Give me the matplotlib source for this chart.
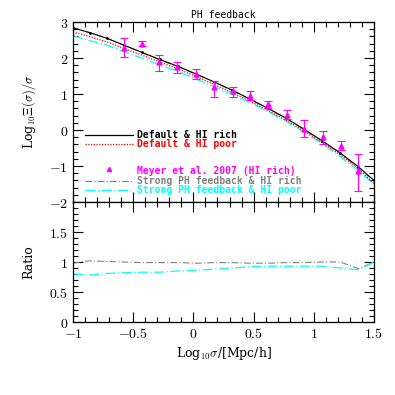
import numpy as np
import matplotlib
matplotlib.use("Agg")
import matplotlib.pyplot as plt
from matplotlib.ticker import MultipleLocator, FuncFormatter
from matplotlib.lines import Line2D

plt.rcParams['font.family'] = ['DejaVu Serif']
plt.rcParams['mathtext.fontset'] = 'cm'

# model curves
log_sigma = [-1.0, -0.86, -0.72, -0.58, -0.43, -0.28, -0.13, 0.02, 0.17,
             0.32, 0.47, 0.62, 0.77, 0.92, 1.07, 1.22, 1.37, 1.5]
default_rich = [2.84, 2.70, 2.55, 2.36, 2.16, 1.96, 1.77, 1.56, 1.34,
                1.11, 0.86, 0.60, 0.33, 0.02, -0.30, -0.64, -1.02, -1.40]
default_poor = [2.72, 2.59, 2.45, 2.27, 2.08, 1.89, 1.70, 1.49, 1.27,
                1.04, 0.80, 0.54, 0.27, -0.03, -0.35, -0.69, -1.07, -1.49]
strong_rich = [2.84, 2.71, 2.55, 2.36, 2.15, 1.95, 1.76, 1.55, 1.33,
               1.10, 0.85, 0.59, 0.32, 0.01, -0.31, -0.64, -1.07, -1.40]
strong_poor = [2.62, 2.48, 2.36, 2.18, 2.00, 1.81, 1.63, 1.42, 1.21,
               0.99, 0.76, 0.51, 0.24, -0.06, -0.38, -0.74, -1.13, -1.51]

# ratios (strong / default)
ratio_rich = [0.98, 1.02, 1.01, 1.00, 0.99, 0.99, 0.99, 0.98, 0.99,
              0.99, 0.98, 0.98, 0.99, 0.99, 1.00, 1.00, 0.89, 1.00]
ratio_poor = [0.80, 0.78, 0.81, 0.82, 0.83, 0.83, 0.85, 0.86, 0.88,
              0.90, 0.92, 0.93, 0.93, 0.93, 0.93, 0.90, 0.87, 1.00]

# Meyer et al. 2007 data
meyer_x = [-0.576, -0.424, -0.283, -0.134, 0.02, 0.174, 0.326, 0.47,
           0.62, 0.777, 0.921, 1.073, 1.223, 1.37]
meyer_y = [2.29, 2.40, 1.88, 1.76, 1.56, 1.19, 1.08, 0.95,
           0.72, 0.43, 0.03, -0.20, -0.44, -1.14]
meyer_lo = [2.04, 2.34, 1.65, 1.59, 1.42, 0.93, 0.93, 0.83,
            0.60, 0.31, -0.19, -0.40, -0.56, -1.69]
meyer_hi = [2.56, 2.47, 2.08, 1.90, 1.69, 1.36, 1.19, 1.08,
            0.81, 0.56, 0.28, -0.02, -0.30, -0.68]


def tick_fmt(v, pos):
    s = ('%g' % round(v, 3)).replace('-', '-')
    return '$%s$' % s


fig = plt.figure(figsize=(3.95, 3.95), dpi=100)
ax1 = fig.add_axes([0.1848, 0.4886, 0.762, 0.4557])
ax2 = fig.add_axes([0.1848, 0.1848, 0.762, 0.3038])

ax1.plot(log_sigma, strong_rich, color='gray', lw=0.8, dashes=(6, 2, 1, 2))
ax1.plot(log_sigma, strong_poor, color='cyan', lw=0.9, dashes=(8, 2, 1, 2))
ax1.plot(log_sigma, default_poor, color='red', lw=0.9, ls=(0, (1, 1.2)))
ax1.plot(log_sigma, default_rich, color='black', lw=0.8, marker='.', ms=2)

yerr = [np.array(meyer_y) - np.array(meyer_lo), np.array(meyer_hi) - np.array(meyer_y)]
ax1.errorbar(meyer_x, meyer_y, yerr=yerr, fmt='^', color='magenta', ms=3.5,
             elinewidth=0.8, capsize=3, capthick=0.8)

ax2.plot(log_sigma, ratio_rich, color='gray', lw=0.8, dashes=(6, 2, 1, 2))
ax2.plot(log_sigma, ratio_poor, color='cyan', lw=0.9, dashes=(8, 2, 1, 2))

ax1.set_xlim(-1, 1.5)
ax1.set_ylim(-2, 3)
ax2.set_xlim(-1, 1.5)
ax2.set_ylim(0, 2)

for ax in (ax1, ax2):
    ax.xaxis.set_major_locator(MultipleLocator(0.5))
    ax.xaxis.set_minor_locator(MultipleLocator(0.1))
    ax.xaxis.set_major_formatter(FuncFormatter(tick_fmt))
    ax.yaxis.set_major_formatter(FuncFormatter(tick_fmt))
    ax.tick_params(which='both', direction='in', top=True, right=True,
                   labelsize=10, width=0.8)
    ax.tick_params(which='major', length=7)
    ax.tick_params(which='minor', length=3.5)
    for s in ax.spines.values():
        s.set_linewidth(0.9)
ax1.yaxis.set_major_locator(MultipleLocator(1))
ax1.yaxis.set_minor_locator(MultipleLocator(0.2))
ax2.yaxis.set_major_locator(MultipleLocator(0.5))
ax2.yaxis.set_minor_locator(MultipleLocator(0.1))
ax2.set_yticks([0, 0.5, 1, 1.5])
ax1.tick_params(labelbottom=False)

ax1.set_title('PH feedback', fontsize=7, family='DejaVu Sans Mono', pad=3)
ax1.set_ylabel(r'Log$_{10}\Xi(\sigma)/\sigma$', fontsize=9, labelpad=8)
ax2.set_ylabel('Ratio', fontsize=9, labelpad=10)
ax2.set_xlabel(r'Log$_{10}\sigma$/[Mpc/h]', fontsize=9, labelpad=3)

# legend drawn by hand as in the original
entries = [
    ('Default & HI rich', 'black', dict(ls='-', lw=0.9), None),
    ('Default & HI poor', 'red', dict(ls=(0, (1, 1.2)), lw=0.9), None),
    ('Meyer et al. 2007 (HI rich)', 'magenta', dict(ls='none', marker='^', ms=3), 'pt'),
    ('Strong PH feedback & HI rich', 'gray', dict(dashes=(6, 2, 1, 2), lw=0.8), None),
    ('Strong PH feedback & HI poor', 'cyan', dict(dashes=(8, 2, 1, 2), lw=0.9), None),
]
ys = [0.372, 0.322, 0.172, 0.118, 0.067]
for (label, col, kw, kind), yy in zip(entries, ys):
    if kind == 'pt':
        ax1.add_line(Line2D([0.12], [yy + 0.012], color=col, transform=ax1.transAxes, **kw))
    else:
        ax1.add_line(Line2D([0.04, 0.2], [yy, yy], color=col, transform=ax1.transAxes, **kw))
    ax1.text(0.213, yy, label, color=col, transform=ax1.transAxes, fontsize=7,
             family='DejaVu Sans Mono', fontweight='semibold', va='center')

fig.savefig('out.png', dpi=100)
